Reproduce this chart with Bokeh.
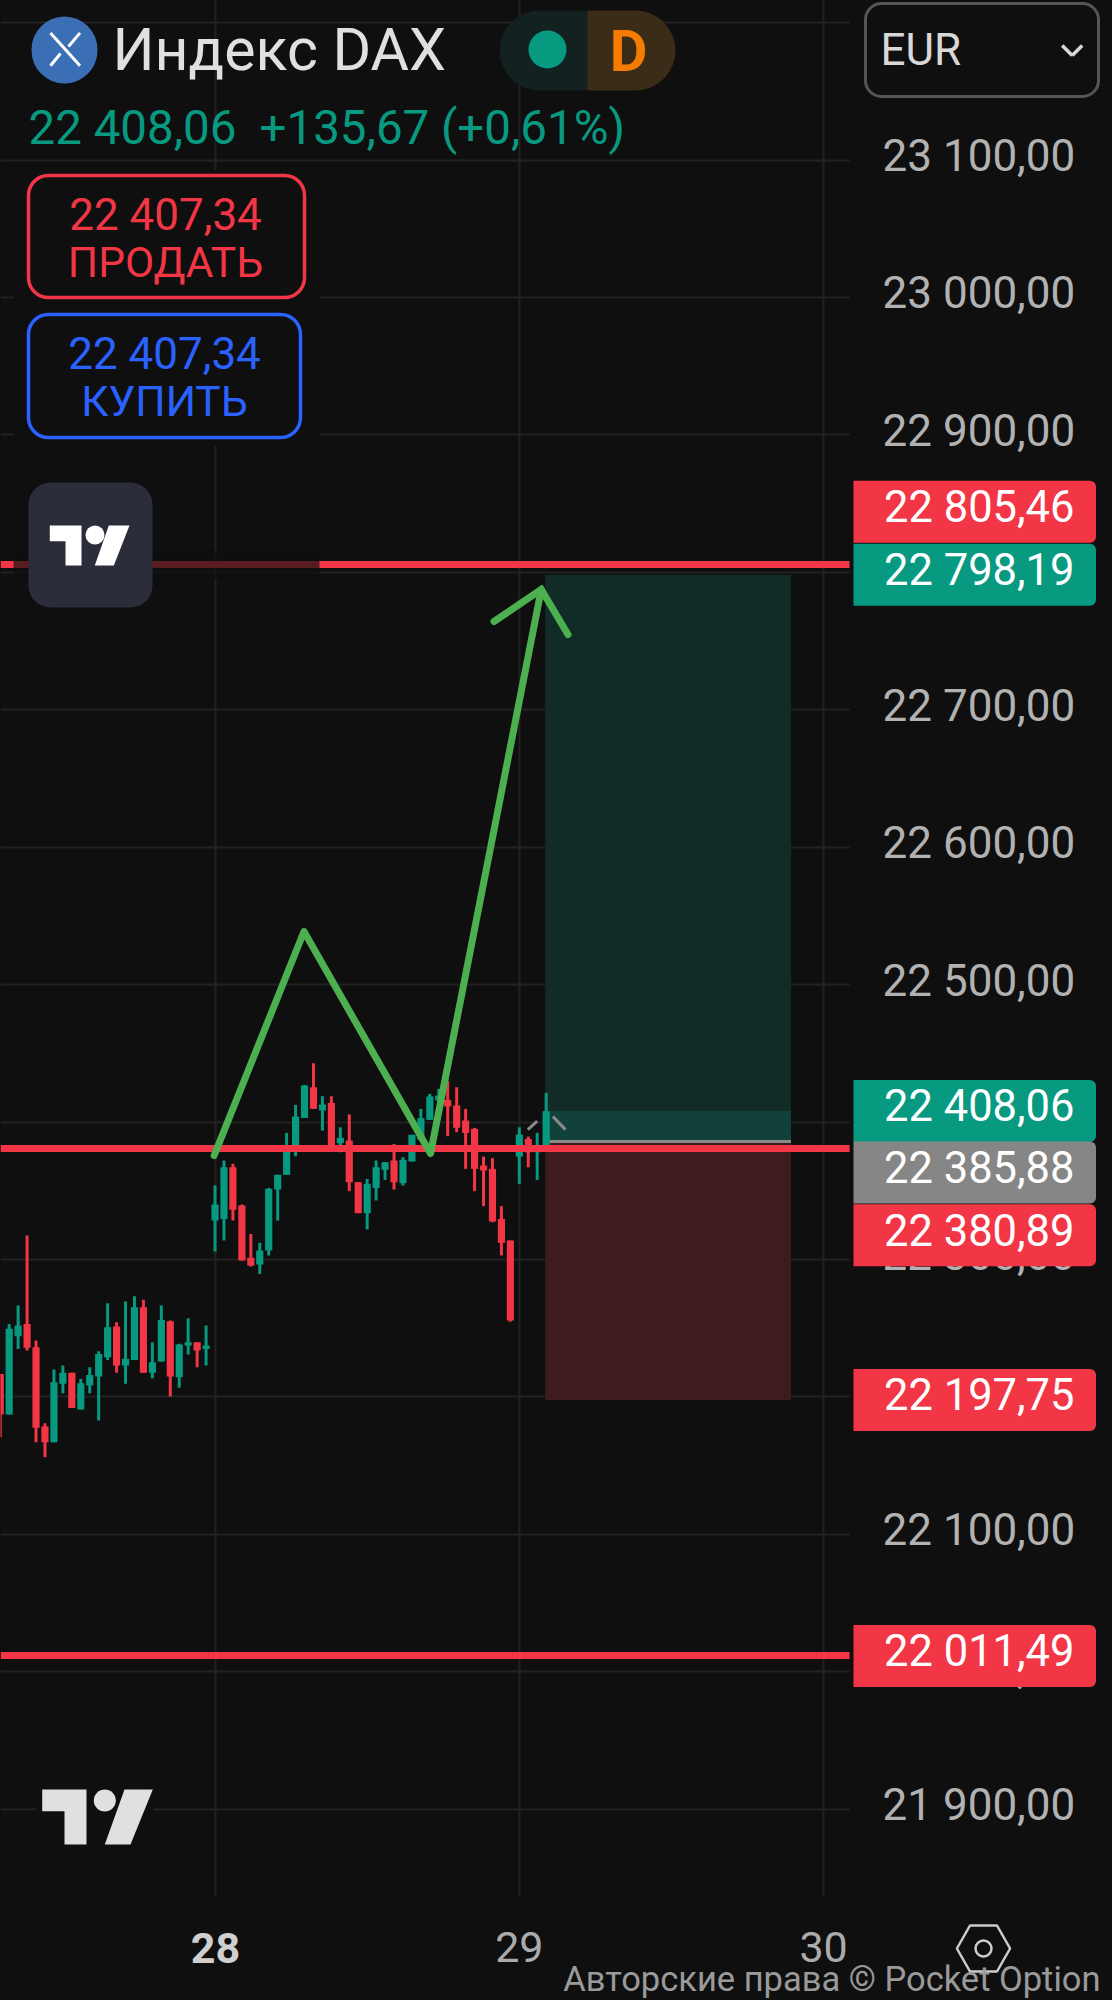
from bokeh.embed import file_html
from bokeh.resources import INLINE
from bokeh.plotting import figure
from bokeh.models import (Range1d, FixedTicker, LinearAxis, Label, BoxAnnotation,
                          PolyAnnotation, ColumnDataSource, Grid)

# ---------- data (prices) ----------
bar_index = list(range(-24, 38))
highs = [22216.7,22253.1,22266.5,22317.4,22241.0,22180.9,22219.9,22222.8,22217.5,22213.1,22221.6,22233.2,22268.2,22254.3,22269.4,22273.3,22270.6,22239.8,22266.5,22255.6,22238.6,22257.3,22239.8,22251.9,
         22353.8,22372.0,22369.6,22340.0,22318.6,22312.1,22352.1,22361.6,22392.1,22412.5,22427.0,22442.8,22418.8,22418.8,22396.2,22405.5,22356.2,22358.6,22372.0,22370.8,22384.1,22374.4,22390.7,22409.6,22420.5,22424.1,22429.7,22425.3,22409.6,22395.8,22374.9,22373.7,22338.8,22313.8,22396.2,22389.4,22392.1,22421.2]
lows = [22170.7,22187.2,22234.9,22233.7,22167.0,22156.1,22167.0,22202.7,22192.0,22190.8,22202.7,22182.8,22226.9,22217.5,22209.5,22226.9,22217.5,22213.6,22225.7,22200.3,22206.6,22230.8,22221.6,22222.8,
        22305.8,22313.8,22328.3,22299.2,22294.8,22289.5,22302.9,22328.3,22361.6,22375.1,22403.0,22409.6,22393.8,22380.5,22378.0,22349.7,22333.7,22321.8,22342.9,22357.9,22350.9,22353.8,22371.3,22387.3,22401.6,22409.6,22389.7,22392.6,22365.9,22349.7,22338.8,22327.1,22302.9,22254.8,22355.0,22367.1,22357.9,22382.9]
opens = [22216.7,22187.2,22244.2,22253.1,22236.2,22178.4,22167.0,22209.5,22217.5,22190.8,22208.3,22214.8,22228.9,22251.2,22222.8,22226.9,22265.3,22217.5,22225.7,22255.1,22214.3,22237.4,22239.8,22234.9,
         22328.3,22329.5,22367.1,22339.2,22301.2,22296.3,22306.5,22350.9,22361.6,22380.5,22403.0,22425.3,22408.4,22413.9,22384.6,22386.5,22356.2,22333.7,22352.1,22365.2,22372.0,22355.5,22371.3,22387.3,22401.6,22415.6,22416.1,22412.0,22401.1,22395.0,22368.3,22365.9,22329.5,22313.8,22374.9,22387.7,22378.0,22382.9]
closes = [22187.2,22249.5,22251.9,22235.7,22177.5,22167.0,22210.7,22217.5,22192.0,22210.0,22216.0,22231.3,22250.7,22222.8,22227.7,22265.3,22217.5,22225.2,22256.0,22214.8,22238.1,22239.8,22233.7,22237.4,
          22340.0,22367.1,22336.1,22299.2,22295.6,22306.5,22351.4,22361.6,22381.7,22404.0,22426.6,22409.6,22412.7,22381.7,22388.5,22356.2,22333.7,22355.0,22367.1,22370.8,22356.2,22372.5,22390.7,22402.8,22418.6,22419.3,22411.3,22395.8,22392.1,22365.9,22364.7,22327.6,22312.1,22255.6,22390.9,22378.0,22382.4,22407.9]
level_prices = [22805.46, 22380.89, 22011.49]
target_price = 22798.19
entry_price = 22385.88
stop_price = 22197.75
last_price = 22408.06
tag_values = [22805.46, 22798.19, 22408.06, 22385.88, 22380.89, 22197.75, 22011.49]
tag_labels = ["22 805,46", "22 798,19", "22 408,06", "22 385,88", "22 380,89", "22 197,75", "22 011,49"]
tag_kinds = ["r", "g", "g", "n", "r", "r", "r"]
tag_shift = [-53, 0, 0, 31, 87, 0, 0]
price_ticks = [21900,22000,22100,22200,22300,22400,22500,22600,22700,22800,22900,23000,23100]
price_labels = ["21 900,00","22 000,00","22 100,00","22 200,00","22 300,00","22 400,00","22 500,00","22 600,00","22 700,00","22 800,00","22 900,00","23 000,00","23 100,00"]
day_ticks = [0, 34, 68]
day_labels = ["28", "29", "30"]
path_x = [-0.1, 9.94, 24.08, 36.45]
path_y = [22375.6, 22538.6, 22377.1, 22787.5]
head_x = [31.17, 36.45, 39.44]
head_y = [22764.2, 22787.5, 22754.7]

BG = "#0f0f0f"; RED = "#f23645"; TEAL = "#089981"; BLUE = "#2962ff"; GRID = "#222222"
W, H = 1112, 2000
X0, X1 = -23.97, 100.28        # bars across the whole canvas
Y1, Y0 = 23216.06, 21760.8     # prices across the whole canvas
PANE_X = 70.9                  # right edge of the chart pane (bars)
PANE_Y = 21837.2               # bottom edge of the chart pane (price)

p = figure(width=W, height=H, output_backend="svg", toolbar_location=None,
           x_range=Range1d(X0, X1), y_range=Range1d(Y0, Y1),
           background_fill_color=BG, border_fill_color=BG,
           min_border_left=0, min_border_top=0, min_border_right=0, min_border_bottom=0,
           x_axis_location=None, y_axis_location=None, outline_line_color=None)
p.xgrid.visible = False; p.ygrid.visible = False

p.add_layout(Grid(dimension=1, ticker=FixedTicker(ticks=price_ticks + [23200]), grid_line_color=GRID, grid_line_width=2))
p.add_layout(Grid(dimension=0, ticker=FixedTicker(ticks=day_ticks), grid_line_color=GRID, grid_line_width=2))

# price labels sit a few pixels above their grid line
shift = 4 / 1.3743
p.extra_y_ranges = {"labels": Range1d(Y0 - shift, Y1 - shift)}
yax = LinearAxis(y_range_name="labels", ticker=FixedTicker(ticks=price_ticks), fixed_location=PANE_X,
                 major_label_overrides=dict(zip(price_ticks, price_labels)),
                 axis_line_color=None, major_tick_line_color=None, minor_tick_line_color=None,
                 major_label_standoff=27, major_label_text_font="Roboto",
                 major_label_text_font_size="44px", major_label_text_color="#b2b2b2")
p.add_layout(yax, "right")
xax = LinearAxis(ticker=FixedTicker(ticks=day_ticks[1:]), fixed_location=PANE_Y,
                 major_label_overrides=dict(zip(day_ticks, day_labels)),
                 axis_line_color=None, major_tick_line_color=None, minor_tick_line_color=None,
                 major_label_standoff=30, major_label_text_font="Roboto",
                 major_label_text_font_size="43px", major_label_text_color="#ababab")
p.add_layout(xax, "below")

# position tool zones
zl, zr = 36.9, 64.36
p.quad(left=zl, right=zr, bottom=entry_price, top=target_price, fill_color="#112b27", line_color=None)
p.quad(left=zl, right=zr, bottom=entry_price, top=last_price, fill_color="#12403a", line_color=None)
p.quad(left=zl, right=zr, bottom=stop_price, top=entry_price, fill_color="#3d1b1f", line_color=None)
p.segment(x0=[zl], x1=[zr], y0=[entry_price], y1=[entry_price], line_color="#8a8a8a", line_width=3)
p.segment(x0=[34.95, 37.75], x1=[36.0, 39.16], y0=[22394.5, 22404.0], y1=[22400.6, 22394.5], line_color="#8a8a8a", line_width=3)

# candles
colors = [TEAL if c >= o else RED for o, c in zip(opens, closes)]
src = ColumnDataSource(dict(x=bar_index, h=highs, l=lows,
                            t=[max(o, c) for o, c in zip(opens, closes)],
                            b=[min(o, c) for o, c in zip(opens, closes)], c=colors))
p.segment(x0="x", x1="x", y0="l", y1="h", line_color="c", line_width=3, source=src)
p.vbar(x="x", width=0.8, top="t", bottom="b", fill_color="c", line_color=None, source=src)

# horizontal levels
p.hspan(y=level_prices, line_color=RED, line_width=7)

# green drawing
p.line(path_x, path_y, line_color="#4caf50", line_width=7, line_join="round", line_cap="round")
p.line(head_x, head_y, line_color="#4caf50", line_width=7, line_join="miter", line_cap="round")

# everything outside the chart pane is plain background
p.quad(left=[PANE_X, X0], right=[X1, X1], bottom=[Y0, Y0], top=[Y1, PANE_Y], fill_color=BG, line_color=None)

# ---------- interface overlays, canvas pixels ----------
def box(l, t, r, b, fill=None, fa=1.0, line=None, lw=0, rad=0):
    a = BoxAnnotation(left=l, right=r, top=t, bottom=b, left_units="canvas", right_units="canvas",
                      top_units="canvas", bottom_units="canvas",
                      fill_color=fill, fill_alpha=fa if fill else 0,
                      line_color=line, line_width=lw, line_alpha=1 if line else 0, border_radius=rad, level="annotation")
    p.add_layout(a)

def poly(xs, ys, fill=None, line=None, lw=0):
    a = PolyAnnotation(xs=xs, ys=ys, xs_units="canvas", ys_units="canvas",
                       fill_color=fill, fill_alpha=1 if fill else 0,
                       line_color=line, line_width=lw, line_alpha=1 if line else 0, level="annotation")
    p.add_layout(a)

def text(x, y, s, size, color, align="left", style="normal"):
    p.add_layout(Label(x=x, y=H - y, x_units="screen", y_units="screen", text=s, text_font="Roboto",
                       text_font_size=f"{size}px", text_color=color, text_align=align,
                       text_baseline="middle", text_font_style=style))

def py_of(v):
    return H * (Y1 - v) / (Y1 - Y0)

box(13, 170, 319, 445, fill=BG)
box(13, 550, 319, 580, fill=BG, fa=0.68)

# header
box(31, 16, 97, 83, fill="#3a6fb5", rad=33)
poly([50, 79.5], [32.4, 65.2], line="#ffffff", lw=3)
poly([79.5, 68], [32.4, 46], line="#ffffff", lw=3)
poly([60, 50], [53, 65.2], line="#ffffff", lw=3)
text(112, 49, "Индекс DAX", 59, "#e0e0e0")
box(499, 10, 620, 90, fill="#132220", rad=40)
box(587, 10, 675, 90, fill="#3b2c18", rad=(0, 40, 40, 0))
box(528, 30, 566, 68, fill=TEAL, rad=19)
text(628, 50, "D", 58, "#f57c00", align="center", style="bold")
text(28, 127, "22 408,06", 47.5, TEAL)
text(259, 127, "+135,67 (+0,61%)", 47.5, TEAL)

# trade buttons
box(28, 175, 304, 297, fill=BG, line=RED, lw=3.5, rad=20)
text(165, 214, "22 407,34", 44, RED, align="center")
text(165, 262, "ПРОДАТЬ", 42.5, RED, align="center")
box(28, 314, 300, 437, fill=BG, line=BLUE, lw=3.5, rad=20)
text(164, 353, "22 407,34", 44, BLUE, align="center")
text(164, 401, "КУПИТЬ", 42.5, BLUE, align="center")

# chart logo button
box(28, 482, 152, 607, fill="#2b2e3a", rad=22)
poly([49.3, 81, 81, 65, 65, 49.3], [525, 525, 565, 565, 540.7, 540.7], fill="#ffffff")
box(85, 525, 104, 544, fill="#ffffff", rad=10)
poly([108.3, 129, 113.3, 94.3], [525, 525, 565, 565], fill="#ffffff")

# bottom logo
box(35, 1780, 153, 1850, fill=BG)
poly([41.7, 86, 86, 64, 64, 41.7], [1789, 1789, 1844, 1844, 1810.7, 1810.7], fill="#e0e0e0")
box(93.3, 1789, 115.3, 1811, fill="#e0e0e0", rad=11)
poly([124, 152.3, 130, 104.3], [1789, 1789, 1844, 1844], fill="#e0e0e0")

# currency selector
box(865, 3, 1098, 96, line="#555555", lw=3, rad=16)
text(880, 49, "EUR", 44, "#d8d8d8")
poly([1061.7, 1071.7], [45, 55], line="#d8d8d8", lw=3.5)
poly([1071.7, 1081.7], [55, 45], line="#d8d8d8", lw=3.5)

# price tags
tag_fill = {"r": RED, "g": TEAL, "n": "#868686"}
for v, s, k, d in zip(tag_values, tag_labels, tag_kinds, tag_shift):
    c = py_of(v) + d
    box(853, c - 31, 1095.5, c + 31, fill=tag_fill[k], rad=(0, 6, 6, 0))
    text(883.5, c - 4, s, 43.5, "#ffffff")

# bold first day label, footer
text(215, 1947, day_labels[0], 43, "#cfcfcf", align="center", style="bold")
poly([956.4, 969.5, 996.5, 1009.6, 996.5, 969.5], [1948, 1925, 1925, 1948, 1971, 1971], line="#cccccc", lw=2.5)
box(975, 1940, 991, 1956, line="#cccccc", lw=2.5, rad=8)
text(1100, 1978, "Авторские права © Pocket Option", 34.5, "#9a9a9a", align="right")

html = file_html(p, INLINE)
html = html.replace("</head>", "<style>html,body{margin:0;background:#0f0f0f;overflow:hidden}</style></head>")
open("out.html", "w").write(html)
